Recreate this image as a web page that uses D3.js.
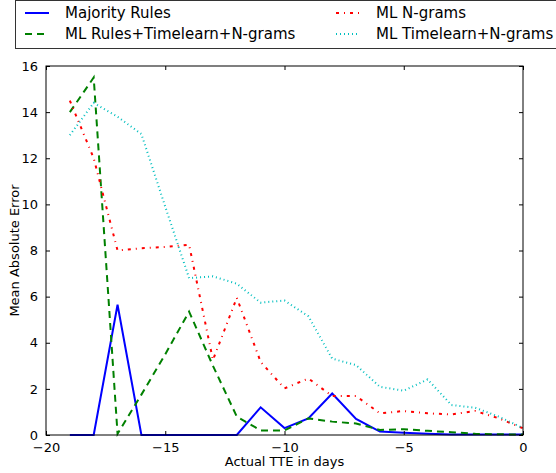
<!DOCTYPE html>
<html>
<head>
<meta charset="utf-8">
<script src="https://cdn.jsdelivr.net/npm/d3@7"></script>
<style>
  body { margin: 0; background: #fff; }
  svg { font-family: "DejaVu Sans", sans-serif; }
</style>
</head>
<body>
<div id="chart"></div>
<script>
// x values: days before event
const days = d3.range(-19, 1);

const majorityRules = [0, 0, 5.65, 0, 0, 0, 0, 0, 1.2, 0.3, 0.72, 1.8, 0.7, 0.15, 0.1, 0.05, 0.02, 0.02, 0.02, 0.02];
const mlRulesTimeNgrams = [14.0, 15.5, 0.05, 1.75, 3.5, 5.35, 3.0, 0.8, 0.2, 0.2, 0.72, 0.58, 0.5, 0.22, 0.25, 0.18, 0.12, 0.05, 0.03, 0.02];
const mlNgrams = [14.5, 12.0, 8.0, 8.1, 8.15, 8.25, 3.25, 5.95, 3.17, 2.02, 2.45, 1.69, 1.69, 0.94, 1.04, 0.94, 0.89, 1.04, 0.72, 0.29];
const mlTimeNgrams = [13.0, 14.4, 13.8, 13.05, 9.9, 6.8, 6.88, 6.56, 5.74, 5.83, 5.15, 3.31, 3.03, 2.09, 1.92, 2.41, 1.3, 1.18, 0.79, 0.3];

const seriesNames = ["Majority Rules", "ML Rules+Timelearn+N-grams", "ML N-grams", "ML Timelearn+N-grams"];
const xTicks = [-20, -15, -10, -5, 0];
const yTicks = [0, 2, 4, 6, 8, 10, 12, 14, 16];

const series = [
  { name: seriesNames[0], values: majorityRules, color: "#0000ff", dash: null },
  { name: seriesNames[1], values: mlRulesTimeNgrams, color: "#008000", dash: "7,5" },
  { name: seriesNames[2], values: mlNgrams, color: "#ff0000", dash: "3,5,1,5" },
  { name: seriesNames[3], values: mlTimeNgrams, color: "#00bfbf", dash: "1,3" }
];

const width = 556, height = 473;
const margin = { top: 66, right: 33, bottom: 38, left: 46 };
const plotW = width - margin.left - margin.right;
const plotH = height - margin.top - margin.bottom;

const svg = d3.select("#chart").append("svg")
    .attr("width", width)
    .attr("height", height);

const x = d3.scaleLinear().domain([-20, 0]).range([0, plotW]);
const y = d3.scaleLinear().domain([0, 16]).range([plotH, 0]);

const g = svg.append("g")
    .attr("transform", `translate(${margin.left},${margin.top})`);

// lines
const line = d3.line()
    .x((d, i) => x(days[i]))
    .y(d => y(d));

g.selectAll(".series")
    .data(series)
    .enter()
    .append("path")
    .attr("class", "series")
    .attr("d", d => line(d.values))
    .attr("fill", "none")
    .attr("stroke", d => d.color)
    .attr("stroke-width", 2)
    .attr("stroke-dasharray", d => d.dash);

// axes with inward ticks on all sides
function styleAxis(sel) {
    sel.select(".domain").remove();
    sel.selectAll("line").attr("stroke", "#000");
    sel.selectAll("text")
        .attr("fill", "#000")
        .style("font-size", "13px")
        .style("font-family", "DejaVu Sans, sans-serif");
}

g.append("g")
    .attr("transform", `translate(0,${plotH})`)
    .call(d3.axisBottom(x).tickValues(xTicks).tickSize(-4).tickPadding(8)
        .tickFormat(d => d < 0 ? "\u2212" + Math.abs(d) : d))
    .call(styleAxis);

g.append("g")
    .call(d3.axisTop(x).tickValues(xTicks).tickSize(-4).tickFormat(""))
    .call(styleAxis);

g.append("g")
    .call(d3.axisLeft(y).tickValues(yTicks).tickSize(-4).tickPadding(8))
    .call(styleAxis);

g.append("g")
    .attr("transform", `translate(${plotW},0)`)
    .call(d3.axisRight(y).tickValues(yTicks).tickSize(-4).tickFormat(""))
    .call(styleAxis);

// frame
g.append("rect")
    .attr("width", plotW)
    .attr("height", plotH)
    .attr("fill", "none")
    .attr("stroke", "#000")
    .attr("stroke-width", 1);

// axis labels
svg.append("text")
    .attr("x", margin.left + plotW / 2)
    .attr("y", 466)
    .attr("text-anchor", "middle")
    .style("font-size", "13px")
    .text("Actual TTE in days");

svg.append("text")
    .attr("transform", `translate(19,${margin.top + plotH / 2}) rotate(-90)`)
    .attr("text-anchor", "middle")
    .style("font-size", "13px")
    .text("Mean Absolute Error");

// legend above the plot
const legend = svg.append("g");
legend.append("rect")
    .attr("x", 15.5)
    .attr("y", 0.5)
    .attr("width", 560)
    .attr("height", 48)
    .attr("fill", "#fff")
    .attr("stroke", "#333")
    .attr("stroke-width", 1);

const legendPos = [
    { lx: 25, ty: 13 },
    { lx: 25, ty: 34 },
    { lx: 336, ty: 13 },
    { lx: 336, ty: 34 }
];

const items = legend.selectAll(".item")
    .data(series)
    .enter()
    .append("g")
    .attr("class", "item")
    .attr("transform", (d, i) => `translate(${legendPos[i].lx},${legendPos[i].ty})`);

items.append("line")
    .attr("x1", 0).attr("x2", 24)
    .attr("y1", 0).attr("y2", 0)
    .attr("stroke", d => d.color)
    .attr("stroke-width", 2)
    .attr("stroke-dasharray", d => d.dash);

items.append("text")
    .attr("x", 40)
    .attr("dy", "0.35em")
    .style("font-size", "15px")
    .text(d => d.name);
</script>
</body>
</html>
